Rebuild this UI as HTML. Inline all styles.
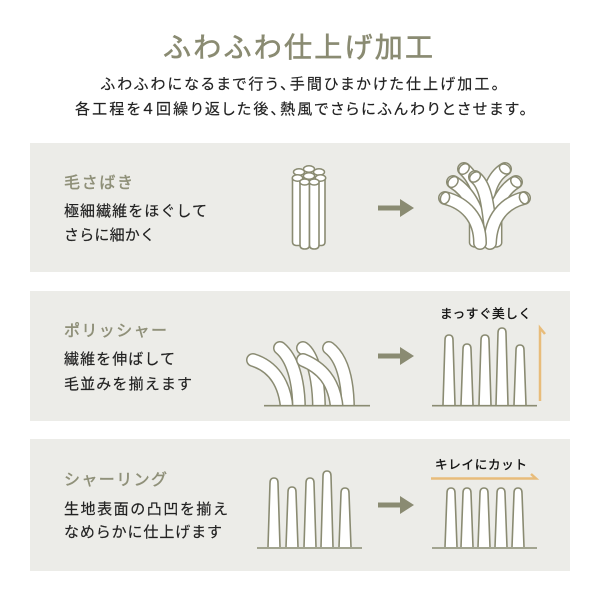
<!DOCTYPE html>
<html><head><meta charset="utf-8">
<style>
html,body{margin:0;padding:0;background:#fff;width:600px;height:600px;overflow:hidden}
svg{display:block}
text{font-family:"Liberation Sans","Noto Sans CJK JP",sans-serif;fill:#222;stroke:#222;stroke-width:.18}
.h{fill:#8f9079;stroke:#8f9079;stroke-width:.45;font-size:16px}
.b{font-size:15px}
.l{font-size:12.5px;fill:#111;stroke:#111;stroke-width:.35}
.p{fill:#fff;stroke:#8a8b72;stroke-width:1.6;stroke-linejoin:round}
.base{stroke:#8a8b72;stroke-width:1.6;fill:none}
.o{stroke:#8a8b72;stroke-width:14;fill:none;stroke-linecap:round}
.w{stroke:#fff;stroke-width:11;fill:none;stroke-linecap:round}
.e{fill:#fff;stroke:#8a8b72;stroke-width:1.5}
</style></head><body>
<svg width="600" height="600" viewBox="0 0 600 600" xmlns="http://www.w3.org/2000/svg">
<rect width="600" height="600" fill="#fff"/>
<rect x="30" y="143" width="540" height="129" fill="#ecece8"/>
<rect x="30" y="291" width="540" height="130" fill="#ecece8"/>
<rect x="30" y="439" width="540" height="132" fill="#ecece8"/>

<text x="163" y="57" textLength="270" lengthAdjust="spacing" style="font-size:28px;fill:#8a8b72;stroke:#8a8b72;stroke-width:.6">ふわふわ仕上げ加工</text>
<text x="101" y="89" textLength="398" lengthAdjust="spacing" style="font-size:15px;font-feature-settings:'palt'">ふわふわになるまで行う、手間ひまかけた仕上げ加工。</text>
<text x="75" y="114" textLength="452" lengthAdjust="spacing" style="font-size:15px;font-feature-settings:'palt'">各工程を４回繰り返した後、熱風でさらにふんわりとさせます。</text>

<text class="h" x="64" y="188" textLength="69" lengthAdjust="spacing">毛さばき</text>
<text class="b" x="64" y="216" textLength="143" lengthAdjust="spacing">極細繊維をほぐして</text>
<text class="b" x="64" y="240" textLength="91" lengthAdjust="spacing">さらに細かく</text>
<text class="h" x="64" y="336" textLength="103" lengthAdjust="spacing">ポリッシャー</text>
<text class="b" x="64" y="364" textLength="111" lengthAdjust="spacing">繊維を伸ばして</text>
<text class="b" x="64" y="389" textLength="128" lengthAdjust="spacing">毛並みを揃えます</text>
<text class="h" x="64" y="485" textLength="103" lengthAdjust="spacing">シャーリング</text>
<text class="b" x="64" y="514" textLength="164" lengthAdjust="spacing">生地表面の凸凹を揃え</text>
<text class="b" x="64" y="537" textLength="158" lengthAdjust="spacing">なめらかに仕上げます</text>

<!-- arrows -->
<path d="M378 205.5H400V199L414 208L400 217V210.5H378Z" fill="#8a8b72"/>
<path d="M378 353.5H400V347L414 356L400 365V358.5H378Z" fill="#8a8b72"/>
<path d="M378 502.5H400V496L414 505L400 514V507.5H378Z" fill="#8a8b72"/>

<!-- bundle -->
<g>
<ellipse class="e" cx="299" cy="172" rx="5.5" ry="3.2"/><ellipse class="e" cx="309" cy="169" rx="5.5" ry="3.2"/><ellipse class="e" cx="319" cy="172" rx="5.5" ry="3.2"/>
<path class="p" d="M292.5 178V242Q292.5 245 296 245.5H303V178Z"/>
<path class="p" d="M317 178V245.5H322Q325 245 325 242V178Z"/>
<ellipse class="e" cx="297.5" cy="178" rx="5.2" ry="3.2"/><ellipse class="e" cx="320.5" cy="178" rx="5.2" ry="3.2"/>
<ellipse class="e" cx="309" cy="176" rx="5.6" ry="3.3"/>
<path class="p" d="M300 182V245Q300 249 304.7 249Q309.5 249 309.5 245V182Z"/>
<path class="p" d="M309.5 182V245Q309.5 249 314.2 249Q319 249 319 245V182Z"/>
<ellipse class="e" cx="304.7" cy="182" rx="4.9" ry="3"/><ellipse class="e" cx="314.2" cy="182" rx="4.9" ry="3"/>
</g>

<!-- splayed -->
<g>
<path d="M469.5 222V243Q470 246 474 247H497Q501.5 246 501.7 243V222Z" fill="#fff" stroke="#8a8b72" stroke-width="1.5"/>
<path class="o" d="M464 169C474 178 486 200 484 235"/><path class="w" d="M464 169C474 178 486 200 484 235"/>
<path class="o" d="M505 169C490 178 484 200 487 235"/><path class="w" d="M505 169C490 178 484 200 487 235"/>
<path class="o" d="M453 182C466 190 478 205 482 235"/><path class="w" d="M453 182C466 190 478 205 482 235"/>
<path class="o" d="M516 182C502 190 492 210 489 235"/><path class="w" d="M516 182C502 190 492 210 489 235"/>
<path class="o" d="M475 177C487 186 488 210 491 232"/><path class="w" d="M475 177C487 186 488 210 491 232"/>
<path class="o" d="M524 198C504 203 491 218 490 243"/><path class="w" d="M524 198C504 203 491 218 490 243"/>
<path class="o" d="M445 198C465 203 480 218 480 243"/><path class="w" d="M445 198C465 203 480 218 480 243"/>
<ellipse class="e" cx="445" cy="198" rx="4.4" ry="6" transform="rotate(20 445 198)"/>
<ellipse class="e" cx="453" cy="182" rx="4.4" ry="6" transform="rotate(40 453 182)"/>
<ellipse class="e" cx="464" cy="169" rx="4.4" ry="6" transform="rotate(45 464 169)"/>
<ellipse class="e" cx="475" cy="177" rx="4.4" ry="6" transform="rotate(50 475 177)"/>
<ellipse class="e" cx="505" cy="169" rx="4.4" ry="6" transform="rotate(-55 505 169)"/>
<ellipse class="e" cx="516" cy="182" rx="4.4" ry="6" transform="rotate(-45 516 182)"/>
<ellipse class="e" cx="524" cy="198" rx="4.4" ry="6" transform="rotate(-20 524 198)"/>
</g>

<!-- polisher left -->
<g>
<path class="o" d="M303 348C313 355 319 380 319 410"/><path class="w" d="M303 348C313 355 319 380 319 410"/>
<path class="o" d="M253 360C272 366 285 382 287 410"/><path class="w" d="M253 360C272 366 285 382 287 410"/>
<path class="o" d="M280 348C292 358 299 380 299 410"/><path class="w" d="M280 348C292 358 299 380 299 410"/>
<path class="o" d="M329 348C342 358 348 380 348 410"/><path class="w" d="M329 348C342 358 348 380 348 410"/>
<path class="o" d="M303 360C320 367 335 380 337 410"/><path class="w" d="M303 360C320 367 335 380 337 410"/>
<rect x="245" y="406" width="130" height="12" fill="#ecece8"/>
<path class="base" d="M264 405.7H370"/>
</g>

<!-- polisher right -->
<g>
<path class="p" d="M443 405L445 340Q445 335 449 335Q453 335 453 340L455 405"/>
<path class="p" d="M461 405L463 349Q463 344 467 344Q471 344 471 349L473 405"/>
<path class="p" d="M479 405L481 340Q481 335 485 335Q489 335 489 340L491 405"/>
<path class="p" d="M496 405L498 333Q498 328 502 328Q506 328 506 333L508 405"/>
<path class="p" d="M514 405L516 350Q516 345 520 345Q524 345 524 350L526 405"/>
<path class="base" d="M432 405.7H537"/>
<path d="M540 401V328L545 334" fill="none" stroke="#e8bc7a" stroke-width="2.5"/>
<text class="l" x="440" y="318" textLength="91" lengthAdjust="spacing">まっすぐ美しく</text>
</g>

<!-- shearing left -->
<g>
<path class="p" d="M268 547L270 483Q270 478 274 478Q278 478 278 483L280 547"/>
<path class="p" d="M286 547L288 492Q288 487 292 487Q296 487 296 492L298 547"/>
<path class="p" d="M304 547L306 483Q306 478 310 478Q314 478 314 483L316 547"/>
<path class="p" d="M321 547L323 476Q323 471 327 471Q331 471 331 476L333 547"/>
<path class="p" d="M339 547L341 493Q341 488 345 488Q349 488 349 493L351 547"/>
<path class="base" d="M257 548H362"/>
</g>

<!-- shearing right -->
<g>
<path class="p" d="M445 547L447 493Q447 488 451 488Q455 488 455 493L457 547"/>
<path class="p" d="M461 547L463 493Q463 488 467 488Q471 488 471 493L473 547"/>
<path class="p" d="M478 547L480 493Q480 488 484 488Q488 488 488 493L490 547"/>
<path class="p" d="M495 547L497 493Q497 488 501 488Q505 488 505 493L507 547"/>
<path class="p" d="M512 547L514 493Q514 488 518 488Q522 488 522 493L524 547"/>
<path class="base" d="M432 548H537"/>
<path d="M431 478.5H536L531 474" fill="none" stroke="#e8bc7a" stroke-width="2.5"/>
<text class="l" x="435" y="469" textLength="92" lengthAdjust="spacing">キレイにカット</text>
</g>
</svg>
</body></html>
